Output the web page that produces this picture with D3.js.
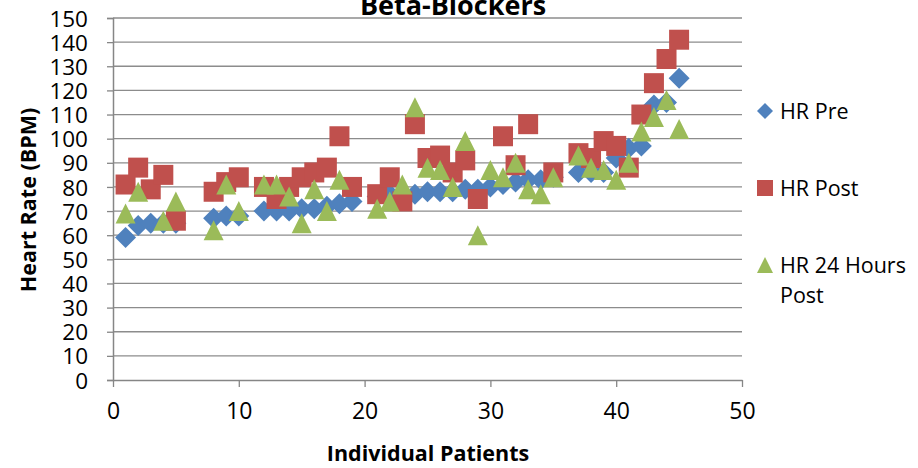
<!DOCTYPE html>
<html lang="en">
  <head>
    <meta charset="UTF-8" />
    <title>Beta-Blockers</title>
    <script src="https://d3js.org/d3.v7.min.js"></script>
    <style>
      body {
        margin: 0;
        background: #fff;
      }
      svg text {
        font-family: "Open Sans", "Liberation Sans", sans-serif;
        fill: #000;
      }
      .grid line {
        stroke: #8c8c8c;
        stroke-width: 1.3px;
      }
    </style>
  </head>
  <body>
    <svg width="918" height="468"></svg>
    <script>
      // patients with readings (6, 7, 11, 20, 36 have none)
      const patients = [1, 2, 3, 4, 5, 8, 9, 10, 12, 13, 14, 15, 16, 17, 18, 19,
        21, 22, 23, 24, 25, 26, 27, 28, 29, 30, 31, 32, 33, 34, 35,
        37, 38, 39, 40, 41, 42, 43, 44, 45];
      const hrPre = [59, 64, 65, 65, 65, 67, 68, 68, 70, 70, 70, 71, 71, 72, 73, 74,
        76, 77, 77, 77, 78, 78, 78, 79, 79, 80, 81, 82, 83, 83, 84,
        86, 86, 86, 92, 96, 97, 114, 115, 125];
      const hrPost = [81, 88, 79, 85, 66, 78, 82, 84, 80, 75, 80, 84, 86, 88, 101, 80,
        77, 84, 74, 106, 92, 93, 86, 91, 75, null, 101, 89, 106, null, 86,
        94, 92, 99, 97, 88, 110, 123, 133, 141];
      const hr24 = [69, 78, null, 66, 74, 62, 81, 70, 81, 81, 76, 65, 79, 70, 83, null,
        71, 74, 81, 113, 88, 87, 80, 99, 60, 87, 84, 90, 79, 77, 84,
        93, 88, 87, 83, 90, 103, 109, 116, 104];
      const seriesNames = ["HR Pre", "HR Post", "HR 24 Hours Post"];
      const xTicks = [0, 10, 20, 30, 40, 50];
      const yTicks = d3.range(0, 151, 10);

      const svg = d3.select("svg");
      const x = d3.scaleLinear().domain([0, 50]).range([113, 742]);
      const y = d3.scaleLinear().domain([0, 150]).range([380, 18]);

      // gridlines
      svg
        .append("g")
        .attr("class", "grid")
        .selectAll("line")
        .data(yTicks.filter((d) => d > 0))
        .enter()
        .append("line")
        .attr("x1", x(0))
        .attr("x2", x(50))
        .attr("y1", (d) => y(d))
        .attr("y2", (d) => y(d));

      // y axis
      const yAxis = svg
        .append("g")
        .attr("transform", `translate(${x(0)},0)`)
        .call(d3.axisLeft(y).tickValues(yTicks).tickSize(6).tickPadding(19));
      yAxis.select(".domain").attr("stroke", "#868686").attr("stroke-width", 1.5);
      yAxis.selectAll(".tick line").attr("stroke", "#868686").attr("stroke-width", 1.3);
      yAxis.selectAll("text").style("font-size", "22.5px").attr("dy", "0.36em");

      // x axis
      const xAxis = svg
        .append("g")
        .attr("transform", `translate(0,${y(0)})`)
        .call(d3.axisBottom(x).tickValues(xTicks).tickSize(7).tickPadding(16).tickSizeOuter(0));
      xAxis.select(".domain").attr("stroke", "#868686").attr("stroke-width", 1.5);
      xAxis.selectAll(".tick line").attr("stroke", "#868686").attr("stroke-width", 1.3);
      xAxis.selectAll("text").style("font-size", "23px");

      // marker shapes
      const shapes = {
        diamond: (s) => `M0,${-s}L${s},0L0,${s}L${-s},0Z`,
        square: (s) => `M${-s},${-s}H${s}V${s}H${-s}Z`,
        triangle: (s) => `M0,${-s}L${s},${s}H${-s}Z`,
      };
      const series = [
        { name: seriesNames[0], values: hrPre, color: "#4f81bd", shape: shapes.diamond, size: 10.5 },
        { name: seriesNames[1], values: hrPost, color: "#c0504d", shape: shapes.square, size: 10 },
        { name: seriesNames[2], values: hr24, color: "#9bbb59", shape: shapes.triangle, size: 10 },
      ];

      series.forEach((s) => {
        svg
          .append("g")
          .selectAll("path")
          .data(patients.map((p, i) => ({ p, v: s.values[i] })).filter((d) => d.v != null))
          .enter()
          .append("path")
          .attr("d", s.shape(s.size))
          .attr("fill", s.color)
          .attr("transform", (d) => `translate(${x(d.p)},${y(d.v)})`);
      });

      // title and axis titles
      svg
        .append("text")
        .attr("x", 453)
        .attr("y", 15)
        .attr("text-anchor", "middle")
        .style("font-size", "27px")
        .style("font-weight", "bold")
        .text("Beta-Blockers");
      svg
        .append("text")
        .attr("x", 428)
        .attr("y", 461)
        .attr("text-anchor", "middle")
        .style("font-size", "21.5px")
        .style("font-weight", "bold")
        .text("Individual Patients");
      svg
        .append("text")
        .attr("transform", "translate(36,200) rotate(-90)")
        .attr("text-anchor", "middle")
        .style("font-size", "21.5px")
        .style("font-weight", "bold")
        .text("Heart Rate (BPM)");

      // legend
      const legendY = [111, 188, 265];
      const legend = svg
        .append("g")
        .selectAll("g")
        .data(series)
        .enter()
        .append("g")
        .attr("transform", (d, i) => `translate(765,${legendY[i]})`);
      legend
        .append("path")
        .attr("d", (d) => d.shape(8))
        .attr("fill", (d) => d.color);
      legend
        .append("text")
        .attr("x", 15)
        .attr("dy", "0.36em")
        .style("font-size", "21.5px")
        .each(function (d) {
          const t = d3.select(this);
          if (d.name === "HR 24 Hours Post") {
            t.append("tspan").attr("x", 15).text("HR 24 Hours");
            t.append("tspan").attr("x", 15).attr("dy", "1.4em").text("Post");
          } else {
            t.text(d.name);
          }
        });
    </script>
  </body>
</html>
